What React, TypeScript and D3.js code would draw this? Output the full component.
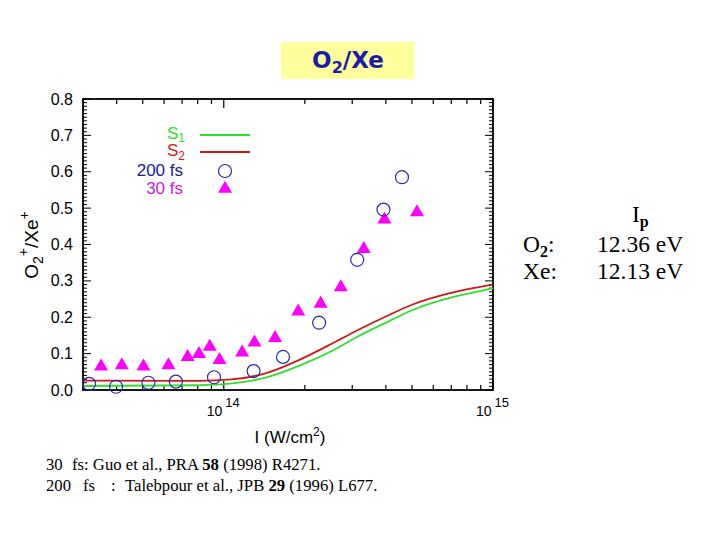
import React from "react";
import * as d3 from "d3";

// 200 fs data (Talebpour et al.) : intensity (W/cm^2), O2+/Xe+ ratio
const fs200I = [3.16e13, 3.98e13, 5.25e13, 6.64e13, 9.2e13, 1.29e14, 1.66e14, 2.26e14, 3.13e14, 3.92e14, 4.59e14];
const fs200R = [0.017, 0.009, 0.02, 0.023, 0.035, 0.052, 0.091, 0.185, 0.358, 0.496, 0.585];

// 30 fs data (Guo et al.)
const fs30I = [3.5e13, 4.18e13, 5.03e13, 6.23e13, 7.34e13, 8.09e13, 8.87e13, 9.64e13, 1.17e14, 1.3e14, 1.55e14, 1.89e14, 2.29e14, 2.72e14, 3.31e14, 3.95e14, 5.22e14];
const fs30R = [0.067, 0.07, 0.067, 0.07, 0.093, 0.101, 0.121, 0.085, 0.105, 0.133, 0.145, 0.218, 0.239, 0.285, 0.39, 0.471, 0.491];

// Theory curves
const curveI = [3e13, 8.07e13, 1.07e14, 1.43e14, 1.91e14, 2.53e14, 3.11e14, 4.13e14, 5.03e14, 6.74e14, 8.42e14, 1e15];
const s1R = [0.011, 0.013, 0.018, 0.034, 0.067, 0.108, 0.145, 0.19, 0.22, 0.251, 0.268, 0.28];
const s2R = [0.026, 0.025, 0.029, 0.046, 0.083, 0.128, 0.163, 0.207, 0.235, 0.264, 0.28, 0.29];

const yTickLabels = ["0.0", "0.1", "0.2", "0.3", "0.4", "0.5", "0.6", "0.7", "0.8"];
const xMajor = [1e14, 1e15];
const xMajorExp = ["14", "15"];
const xMinor = [4e13, 5e13, 6e13, 7e13, 8e13, 9e13, 2e14, 3e14, 4e14, 5e14, 6e14, 7e14, 8e14, 9e14];

const GREEN = "#2ee02e";
const RED = "#d01818";
const BLUE = "#2a2aa8";
const MAGENTA = "#ff00ff";

export default function App() {
  const L = 83, R = 493, T = 99, B = 390;
  const x = d3.scaleLog().domain([3e13, 1e15]).range([L, R]);
  const y = d3.scaleLinear().domain([0, 0.8]).range([B, T]);

  const line = d3
    .line<[number, number]>()
    .x((d) => x(d[0]))
    .y((d) => y(d[1]))
    .curve(d3.curveMonotoneX);

  const s1 = line(curveI.map((v, i) => [v, s1R[i]]) as [number, number][]) || "";
  const s2 = line(curveI.map((v, i) => [v, s2R[i]]) as [number, number][]) || "";

  const yMinor = d3.range(0, 81).map((i) => i / 100);
  const tri = (cx: number, cy: number) => {
    const w = 7, h = 12;
    return `M${cx},${cy - h * 0.6} L${cx + w},${cy + h * 0.4} L${cx - w},${cy + h * 0.4} Z`;
  };

  const sans = "Liberation Sans, Arial, Helvetica, sans-serif";
  const serif = "Liberation Serif, Times New Roman, serif";

  return (
    <svg width={720} height={540} style={{ position: "absolute", left: 0, top: 0, background: "#fff" }}>
      <rect x={0} y={0} width={720} height={540} fill="#fff" />
      {/* title */}
      <rect x={281} y={42} width={133} height={37} fill="#ffff9c" />
      <text x={348} y={68} textAnchor="middle" fontFamily="DejaVu Sans, Verdana, sans-serif" fontWeight="bold" fontSize={23} fill="#1c1ca8">
        O<tspan fontSize={16} dy={5}>2</tspan>
        <tspan dy={-5}>/Xe</tspan>
      </text>

      {/* y ticks */}
      {yMinor.map((v, i) => {
        const major = i % 10 === 0;
        const len = major ? 8 : 4;
        return (
          <g key={"ym" + i} stroke="#000" strokeWidth={1}>
            <line x1={L} x2={L + len} y1={y(v)} y2={y(v)} />
            <line x1={R} x2={R - len} y1={y(v)} y2={y(v)} />
          </g>
        );
      })}
      {/* x ticks */}
      {xMinor.map((v, i) => (
        <g key={"xm" + i} stroke="#000" strokeWidth={1.2}>
          <line x1={x(v)} x2={x(v)} y1={B} y2={B - 5} />
          <line x1={x(v)} x2={x(v)} y1={T} y2={T + 5} />
        </g>
      ))}
      {xMajor.map((v, i) => (
        <g key={"xM" + i} stroke="#000" strokeWidth={1.2}>
          <line x1={x(v)} x2={x(v)} y1={B} y2={B - 9} />
          <line x1={x(v)} x2={x(v)} y1={T} y2={T + 9} />
        </g>
      ))}
      {/* frame */}
      <rect x={L} y={T} width={R - L} height={B - T} fill="none" stroke="#000" strokeWidth={1.8} />

      {/* y tick labels */}
      {yTickLabels.map((t, i) => (
        <text key={"yl" + i} x={73} y={y(i / 10) + 5.5} textAnchor="end" fontFamily={sans} fontSize={16} fill="#000">
          {t}
        </text>
      ))}
      {/* x tick labels */}
      {xMajor.map((v, i) => (
        <text key={"xl" + i} x={x(v) - 17} y={416} fontFamily={sans} fontSize={14} fill="#000">
          10<tspan fontSize={13} dy={-9} dx={3}>{xMajorExp[i]}</tspan>
        </text>
      ))}
      {/* axis titles */}
      <text x={290} y={443} textAnchor="middle" fontFamily={sans} fontSize={17} fill="#000">
        I (W/cm<tspan fontSize={12} dy={-7}>2</tspan>
        <tspan dy={7}>)</tspan>
      </text>
      <text transform="translate(38,245) rotate(-90)" textAnchor="middle" fontFamily={sans} fontSize={19} fill="#000">
        O<tspan fontSize={14} dy={5}>2</tspan>
        <tspan fontSize={14} dy={-15}>+</tspan>
        <tspan dy={10}>/Xe</tspan>
        <tspan fontSize={14} dy={-9}>+</tspan>
      </text>

      {/* curves */}
      <path d={s1} fill="none" stroke={GREEN} strokeWidth={1.8} />
      <path d={s2} fill="none" stroke={RED} strokeWidth={1.8} />

      {/* 30 fs triangles */}
      {fs30I.map((v, i) => (
        <path key={"t" + i} d={tri(x(v), y(fs30R[i]))} fill={MAGENTA} />
      ))}
      {/* 200 fs circles */}
      {fs200I.map((v, i) => (
        <circle key={"c" + i} cx={x(v)} cy={y(fs200R[i])} r={6.5} fill="none" stroke={BLUE} strokeWidth={1.2} />
      ))}

      {/* legend */}
      <text x={185} y={139} textAnchor="end" fontFamily={sans} fontSize={17} fill={GREEN}>
        S<tspan fontSize={12} dy={3}>1</tspan>
      </text>
      <line x1={200} x2={250} y1={135} y2={135} stroke={GREEN} strokeWidth={1.8} />
      <text x={185} y={156} textAnchor="end" fontFamily={sans} fontSize={17} fill={RED}>
        S<tspan fontSize={12} dy={4}>2</tspan>
      </text>
      <line x1={200} x2={250} y1={152} y2={152} stroke={RED} strokeWidth={1.8} />
      <text x={183} y={176} textAnchor="end" fontFamily={sans} fontSize={17} fill="#1a1a9a">
        200 fs
      </text>
      <circle cx={225} cy={171} r={6.5} fill="none" stroke={BLUE} strokeWidth={1.2} />
      <text x={183} y={194} textAnchor="end" fontFamily={sans} fontSize={17} fill="#d020d0">
        30 fs
      </text>
      <path d={tri(225, 188)} fill={MAGENTA} />

      {/* Ip table */}
      <text x={632} y={222} fontFamily={serif} fontSize={23.5} fill="#000">
        I<tspan fontSize={16} dy={5} fontWeight="bold">p</tspan>
      </text>
      <text x={523} y={252} fontFamily={serif} fontSize={23.5} fill="#000">
        O<tspan fontSize={16} dy={5} fontWeight="bold">2</tspan>
        <tspan dy={-5}>:</tspan>
      </text>
      <text x={597} y={252} fontFamily={serif} fontSize={23.5} fill="#000">12.36 eV</text>
      <text x={523} y={279} fontFamily={serif} fontSize={23.5} fill="#000">Xe:</text>
      <text x={597} y={279} fontFamily={serif} fontSize={23.5} fill="#000">12.13 eV</text>

      {/* references */}
      <g fontFamily={serif} fontSize={16.7} fill="#000">
        <text x={46} y={470}>30</text>
        <text x={72} y={470}>
          {"fs: Guo et al., PRA "}
          <tspan fontWeight="bold">58</tspan>
          {" (1998) R4271."}
        </text>
        <text x={46} y={491}>200</text>
        <text x={83} y={491}>fs</text>
        <text x={111} y={491}>:</text>
        <text x={125} y={491}>
          {"Talebpour et al., JPB "}
          <tspan fontWeight="bold">29</tspan>
          {" (1996) L677."}
        </text>
      </g>
    </svg>
  );
}
